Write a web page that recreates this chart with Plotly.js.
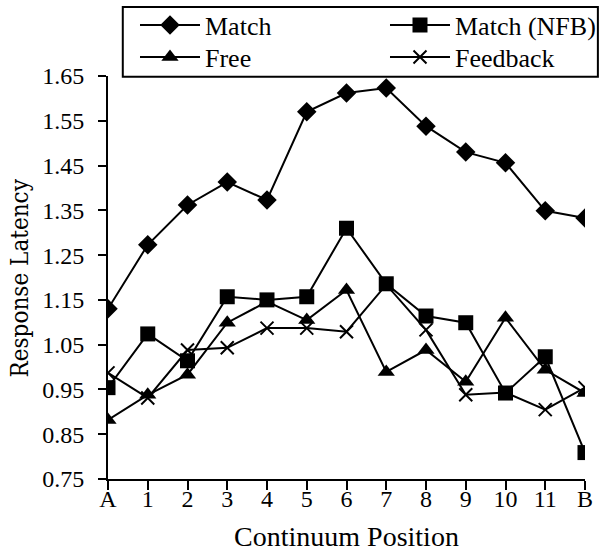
<!DOCTYPE html>
<html>
<head>
<meta charset="utf-8">
<script src="https://cdn.plot.ly/plotly-3.0.1.min.js"></script>
<style>html,body{margin:0;padding:0;background:#fff;}#chart{width:600px;height:552px;}</style>
</head>
<body>
<div id="chart"></div>
<script>
const positions = ["A","1","2","3","4","5","6","7","8","9","10","11","B"];
const matchVals = [1.130,1.273,1.362,1.413,1.373,1.570,1.612,1.623,1.538,1.480,1.456,1.349,1.333];
const matchNFBVals = [0.954,1.074,1.014,1.157,1.150,1.157,1.310,1.186,1.114,1.099,0.942,1.023,0.809];
const freeVals = [0.882,0.938,0.983,1.099,1.146,1.105,1.172,0.989,1.038,0.967,1.110,0.994,0.942];
const feedbackVals = [0.987,0.931,1.038,1.043,1.087,1.087,1.079,1.184,1.083,0.938,0.943,0.905,0.954];
const yTicks = [0.75,0.85,0.95,1.05,1.15,1.25,1.35,1.45,1.55,1.65];

const serif = "Liberation Serif, Times New Roman, serif";
const lineStyle = {color:"#000", width:2};

const traces = [
  {x: positions, y: matchVals, name: "Match", type: "scatter", mode: "lines+markers",
   line: lineStyle, marker: {symbol: "diamond", size: 15, color: "#000"}, legend: "legend"},
  {x: positions, y: matchNFBVals, name: "Match (NFB)", type: "scatter", mode: "lines+markers",
   line: lineStyle, marker: {symbol: "square", size: 15, color: "#000"}, legend: "legend2"},
  {x: positions, y: freeVals, name: "Free", type: "scatter", mode: "lines+markers",
   line: lineStyle, marker: {symbol: "triangle-up", size: 15, color: "#000"}, legend: "legend3"},
  {x: positions, y: feedbackVals, name: "Feedback", type: "scatter", mode: "lines+markers",
   line: lineStyle, marker: {symbol: "x-thin-open", size: 13, color: "#000", line: {color: "#000", width: 2}}, legend: "legend4"}
];

const legendBase = {
  font: {family: serif, size: 26, color: "#000"},
  bgcolor: "rgba(0,0,0,0)", borderwidth: 0,
  xanchor: "left", yanchor: "middle", orientation: "v",
  traceorder: "normal", itemsizing: "trace", itemwidth: 60
};
const col1 = 0.0566, col2 = 0.5807, row1 = 1.1266, row2 = 1.0471;

const layout = {
  width: 600, height: 552,
  margin: {l: 108, r: 15, t: 76, b: 73, autoexpand: false},
  paper_bgcolor: "#fff", plot_bgcolor: "#fff",
  font: {family: serif, size: 24, color: "#000"},
  showlegend: true,
  legend: Object.assign({}, legendBase, {x: col1, y: row1}),
  legend2: Object.assign({}, legendBase, {x: col2, y: row1}),
  legend3: Object.assign({}, legendBase, {x: col1, y: row2}),
  legend4: Object.assign({}, legendBase, {x: col2, y: row2}),
  xaxis: {
    type: "category", range: [0, 12],
    showline: true, linecolor: "#000", linewidth: 2,
    ticks: "outside", ticklen: 9, tickwidth: 2, tickcolor: "#000",
    ticklabelstandoff: -12,
    showgrid: false, zeroline: false,
    tickfont: {family: serif, size: 24, color: "#000"},
    title: {text: "Continuum Position", font: {family: serif, size: 28, color: "#000"}, standoff: 18},
    automargin: false
  },
  yaxis: {
    range: [0.75, 1.65],
    tickvals: yTicks, tickformat: ".2f",
    showline: true, linecolor: "#000", linewidth: 2,
    ticks: "outside", ticklen: 8, tickwidth: 2, tickcolor: "#000",
    ticklabelstandoff: 9,
    showgrid: false, zeroline: false,
    tickfont: {family: serif, size: 24, color: "#000"},
    automargin: false
  },
  annotations: [
    {text: "Response Latency", xref: "paper", yref: "paper", x: -0.1845, y: 0.5,
     xanchor: "center", yanchor: "middle", textangle: -90, showarrow: false,
     font: {family: "DejaVu Serif Condensed, DejaVu Serif, serif", size: 24, color: "#000"}}
  ],
  shapes: [
    {type: "rect", xref: "paper", yref: "paper", x0: 0.031, x1: 1.027, y0: 0.998, y1: 1.171,
     line: {color: "#000", width: 2}, fillcolor: "rgba(255,255,255,0)", layer: "above"}
  ]
};

Plotly.newPlot("chart", traces, layout, {displayModeBar: false, staticPlot: true});
</script>
</body>
</html>
